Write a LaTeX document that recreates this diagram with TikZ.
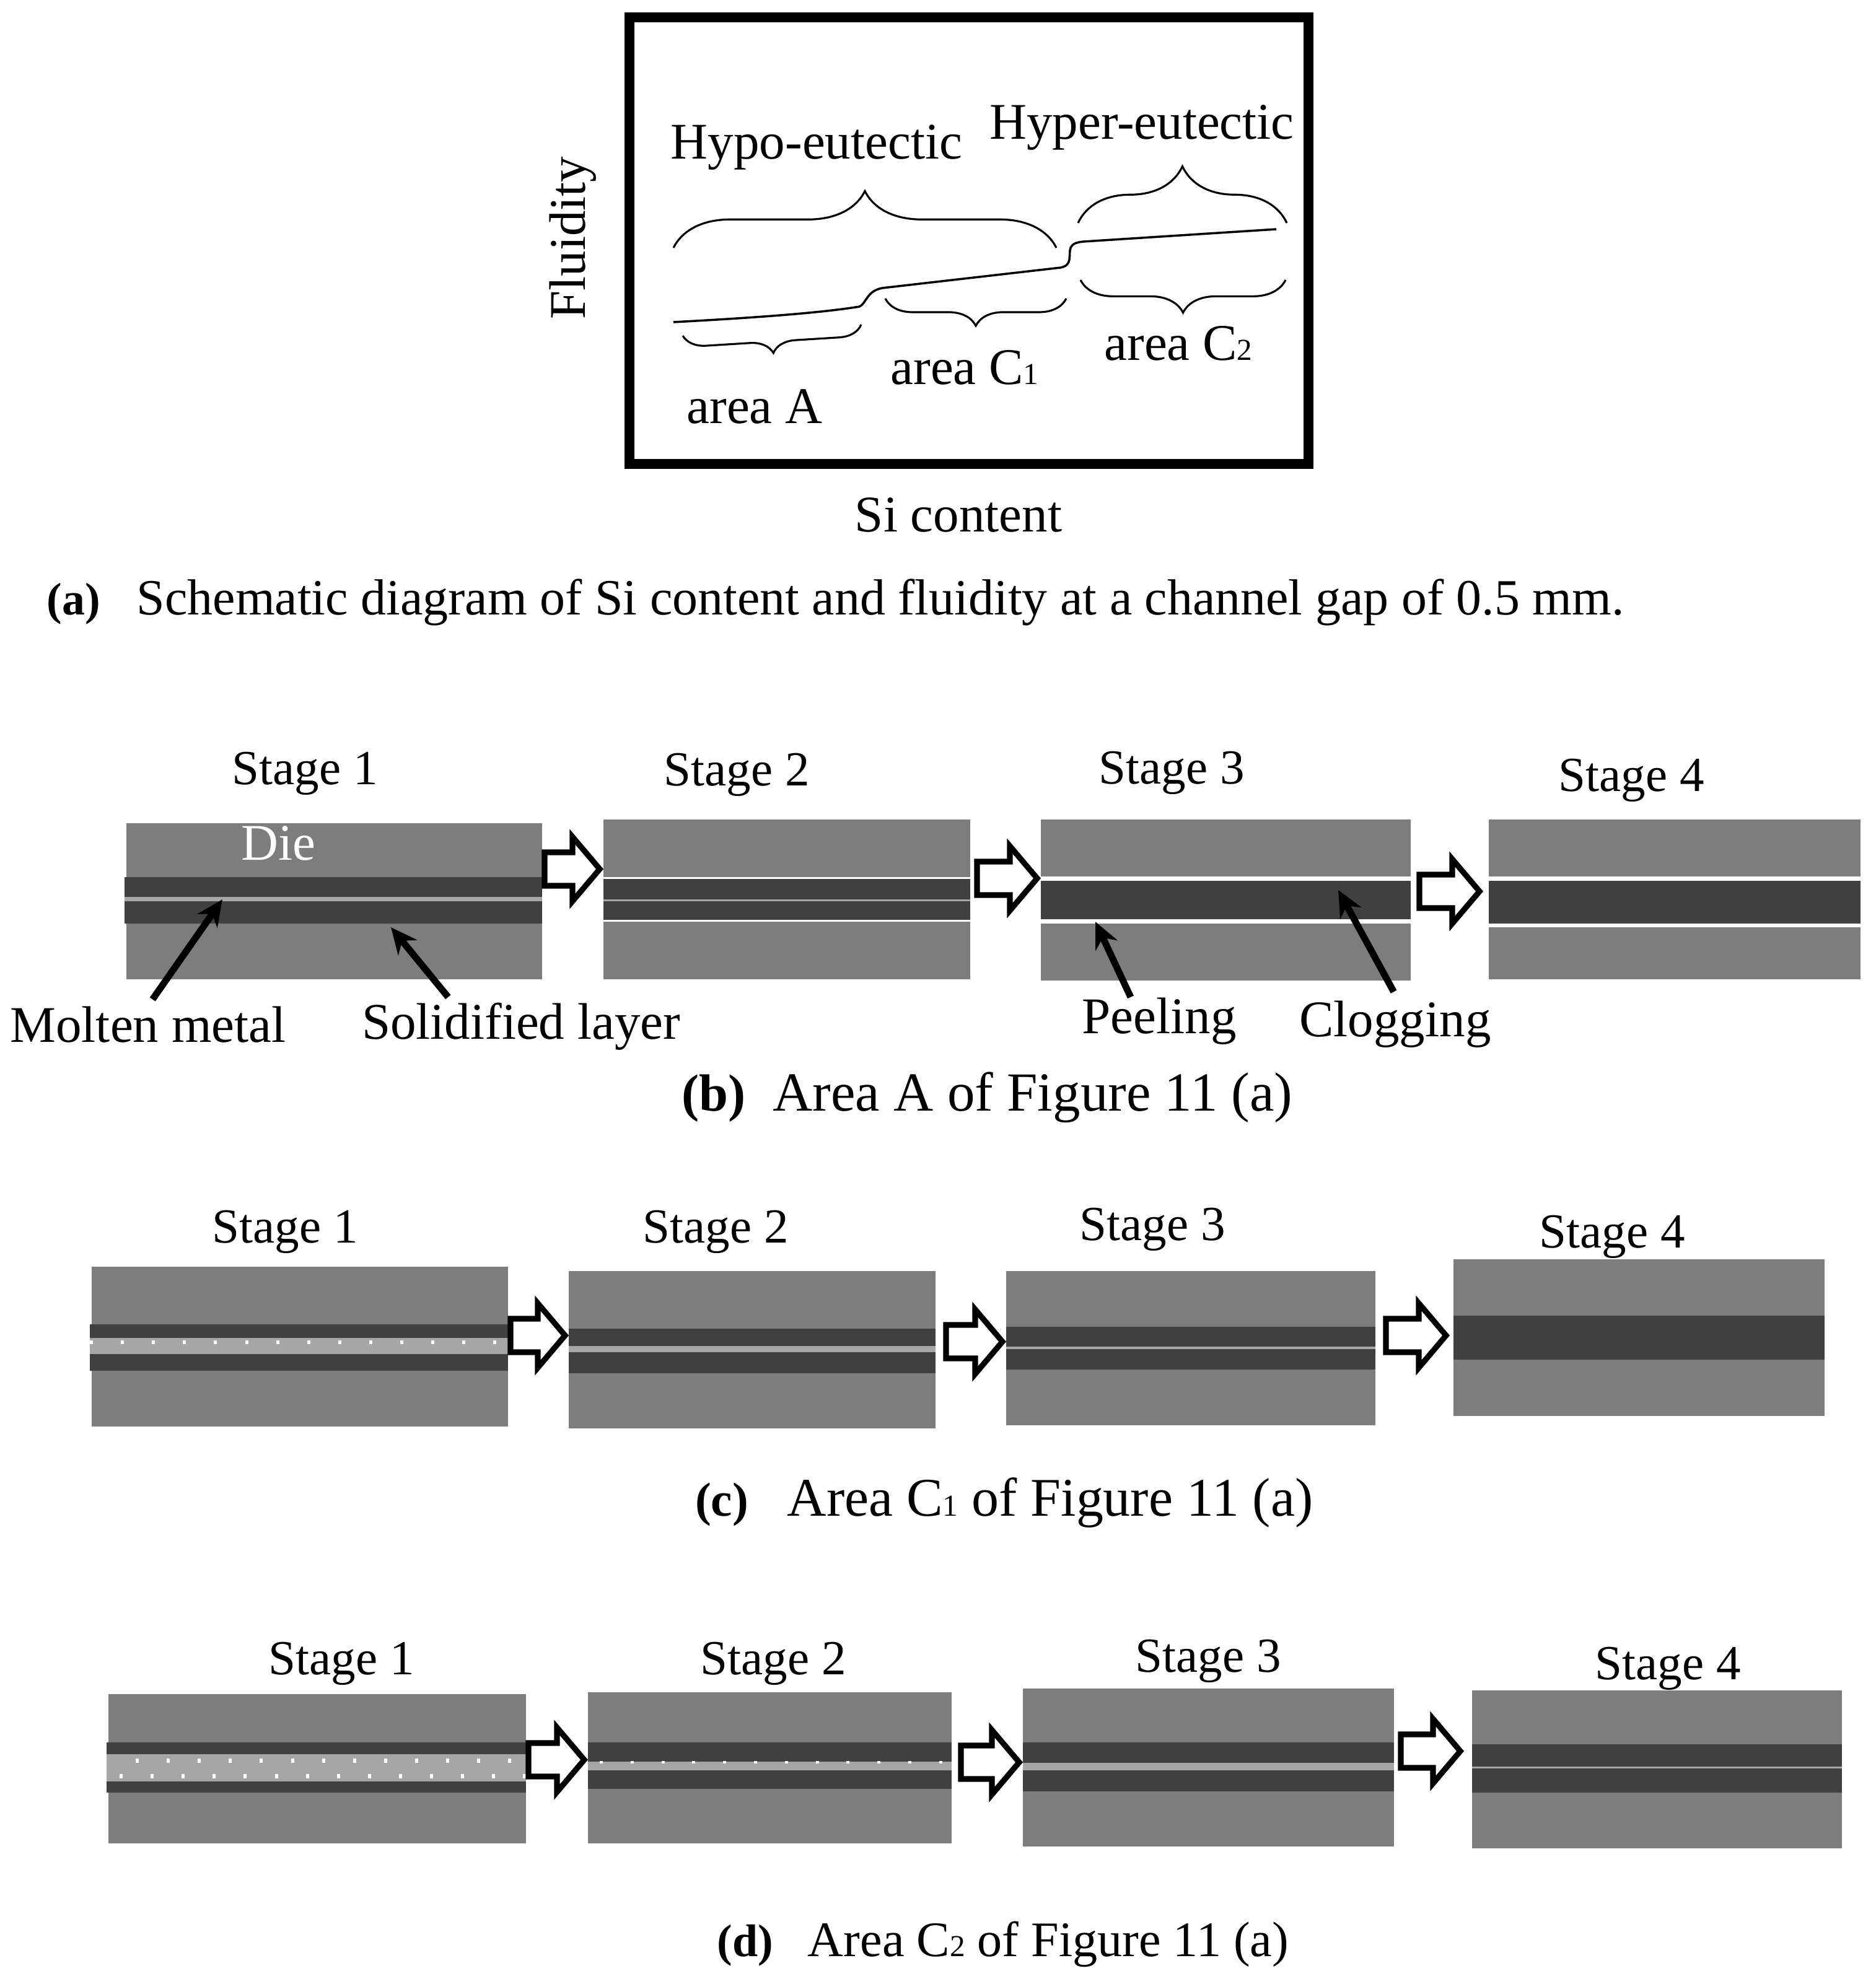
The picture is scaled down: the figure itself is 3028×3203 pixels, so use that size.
\documentclass[tikz,border=0pt]{standalone}
\usepackage{fontspec}
\setmainfont{Liberation Serif}
\usepackage{tikz}
\usetikzlibrary{arrows.meta,decorations.pathreplacing}

\definecolor{diegray}{HTML}{7D7D7D}
\definecolor{layerdark}{HTML}{404040}
\definecolor{meltgray}{HTML}{A6A6A6}

\newcommand{\smallidx}[1]{{\fontsize{14}{14}\selectfont #1}}

\tikzset{
    label/.style={anchor=base, inner sep=0pt, font=\fontsize{23.6}{28}\selectfont},
    stagelabel/.style={anchor=base, inner sep=0pt, font=\fontsize{22.5}{28}\selectfont},
    caption/.style={anchor=base, inner sep=0pt, font=\fontsize{25.3}{30}\selectfont},
    capmark/.style={anchor=base, inner sep=0pt, font=\fontsize{#1}{30}\selectfont\bfseries},
    curlyup/.style={line width=0.9pt, decorate, decoration={brace, amplitude=#1}},
    callout/.style={-{Stealth[length=12pt, width=11pt]}, line width=3.1pt},
    stagearrow/.style={draw=black, fill=white, line width=2.6pt, miter limit=20}
}

\begin{document}
\begin{tikzpicture}[x=0.01cm, y=-0.01cm]
    \useasboundingbox (0,0) rectangle (3028,3203);

    % Top frame with the fluidity curve
    \draw[line width=4.3pt] (1016,28) rectangle (2112,749);
    \draw[line width=1pt] (1087,520) .. controls (1200,514) and (1320,506) .. (1387,495) .. controls (1398,491) and (1398,470) .. (1424,465)
        -- (1712,432) .. controls (1732,428) and (1724,412) .. (1728,400) .. controls (1732,392) and (1740,391) .. (1749,390) -- (2060,370);

    % Braces
    \draw[curlyup=26pt] (1087,400) -- (1705,400);
    \draw[curlyup=26pt] (1740,360) -- (2077,360);
    \draw[curlyup=15pt] (2075,452) -- (1744,452);
    \draw[curlyup=12.5pt] (1721,482) -- (1429,482);
    \draw[curlyup=10.5pt] (1390,524) -- (1102,542);

    \node[label] (hypo) at (1318,257) {Hypo-eutectic};
    \node[label] (hyper) at (1843,225) {Hyper-eutectic};
    \node[label] (areaA) at (1218,683) {area A};
    \node[label] (areaCone) at (1557,620) {area C\smallidx{1}};
    \node[label] (areaCtwo) at (1902,581) {area C\smallidx{2}};
    \node[label, rotate=90] (fluidity) at (944,384) {Fluidity};
    \node[label] (sicontent) at (1547,858) {Si content};

    % Captions
    \node[capmark=21] (capA) at (119,992) {(a)};
    \node[label, font=\fontsize{23.3}{28}\selectfont] (capAtext) at (1421,992) {Schematic diagram of Si content and fluidity at a channel gap of 0.5 mm.};
    \node[capmark=24] (capB) at (1152,1793) {(b)};
    \node[caption] (capBtext) at (1667,1793) {Area A of Figure 11 (a)};
    \node[capmark=22] (capC) at (1165,2447) {(c)};
    \node[caption, font=\fontsize{25}{30}\selectfont] (capCtext) at (1695,2447) {Area C\smallidx{1} of Figure 11 (a)};
    \node[capmark=21] (capD) at (1203,3158) {(d)};
    \node[caption, font=\fontsize{22.8}{30}\selectfont] (capDtext) at (1692,3158) {Area C\smallidx{2} of Figure 11 (a)};

    % Die blocks
    \foreach \xa/\xb/\ya/\yb in {204/875/1329/1581, 974/1566/1323/1581, 1680/2277/1323/1583, 2403/3003/1323/1581,
        148/820/2045/2303, 918/1510/2052/2306, 1624/2220/2052/2301, 2346/2945/2033/2286,
        175/849/2735/2976, 949/1536/2732/2976, 1651/2250/2726/2981, 2376/2973/2729/2984} {
        \fill[diegray] (\xa,\ya) rectangle (\xb,\yb);
    }

    % White gaps along the die walls
    \foreach \xa/\xb/\ya/\yb in {974/1566/1416/1419, 974/1566/1485/1488, 1680/2277/1415/1422, 1680/2277/1484/1491, 2403/3003/1415/1422, 2403/3003/1491/1497} {
        \fill[white] (\xa,\ya) rectangle (\xb,\yb);
    }

    % Solidified layers
    \foreach \xa/\xb/\ya/\yb in {201/875/1416/1491, 974/1566/1419/1485, 1680/2277/1422/1484, 2403/3003/1422/1491,
        145/820/2138/2213, 918/1510/2145/2217, 1624/2220/2142/2211, 2346/2945/2124/2195,
        172/849/2813/2894, 949/1536/2813/2888, 1651/2250/2813/2892, 2376/2973/2816/2894} {
        \fill[layerdark] (\xa,\ya) rectangle (\xb,\yb);
    }

    % Molten metal between the layers
    \foreach \xa/\xb/\ya/\yb in {201/875/1448/1455, 974/1566/1452/1455,
        145/820/2160/2186, 918/1510/2173/2183, 1624/2220/2174/2178,
        172/849/2832/2876, 949/1536/2844/2858, 1651/2250/2846/2858, 2376/2973/2852/2855} {
        \fill[meltgray] (\xa,\ya) rectangle (\xb,\yb);
    }

    % Particles in the melt
    \foreach \i in {0,...,13} {
        \fill[white] (145+50.1*\i,2164) rectangle +(5,6);
        \fill[white] (193+50.1*\i,2864) rectangle +(5,7);
    }
    \foreach \i in {0,...,12} {
        \fill[white] (219+50.1*\i,2839) rectangle +(5,7);
    }
    \foreach \i in {0,...,11} {
        \fill[white] (968+49.8*\i,2843) rectangle +(5,4);
    }

    % Block arrows, one entry for each gap (tip x / tip y / length)
    \foreach \x/\y/\l in {974/1403/99, 1680/1418/107, 2394/1439/107,
        918/2156/98, 1624/2166/101, 2340/2156/107,
        949/2841/100, 1651/2845/104, 2363/2827/106} {
        \draw[stagearrow, shift={(\x,\y)}] (-6,0) -- (-50,-52) -- (-50,-27) -- (-\l+4,-27)
            -- (-\l+4,27) -- (-50,27) -- (-50,52) -- cycle;
    }

    % Stage titles
    \foreach \name/\x/\y/\n in {bA/492/1266/1, bB/1189/1268/2, bC/1891/1265/3, bD/2633/1277/4,
        cA/460/2006/1, cB/1155/2006/2, cC/1860/2002/3, cD/2602/2014/4,
        dA/551/2703/1, dB/1248/2703/2, dC/1950/2699/3, dD/2692/2711/4} {
        \node[stagelabel] (\name) at (\x,\y) {Stage \n};
    }

    % Labels on Stage 1 and Stage 3
    \node[label, text=white] (die) at (449,1388) {Die};
    \node[label] (molten) at (239,1682) {Molten metal};
    \node[label] (solid) at (841,1677) {Solidified layer};
    \node[label] (peeling) at (1871,1668) {Peeling};
    \node[label] (clogging) at (2252,1673) {Clogging};

    \coordinate (moltentip) at (359,1452);
    \coordinate (solidtip) at (631,1497);
    \coordinate (peeltip) at (1768,1488);
    \coordinate (clogtip) at (2160,1437);

    \draw[callout, shorten <=3.6pt] (molten.north) -- (moltentip);
    \draw[callout, shorten <=3pt] (solid.north) ++(-111,0) -- (solidtip);
    \draw[callout] (peeling.north) ++(-46,0) -- (peeltip);
    \draw[callout, shorten <=4.4pt] (clogging.north) ++(5,0) -- (clogtip);
\end{tikzpicture}
\end{document}
